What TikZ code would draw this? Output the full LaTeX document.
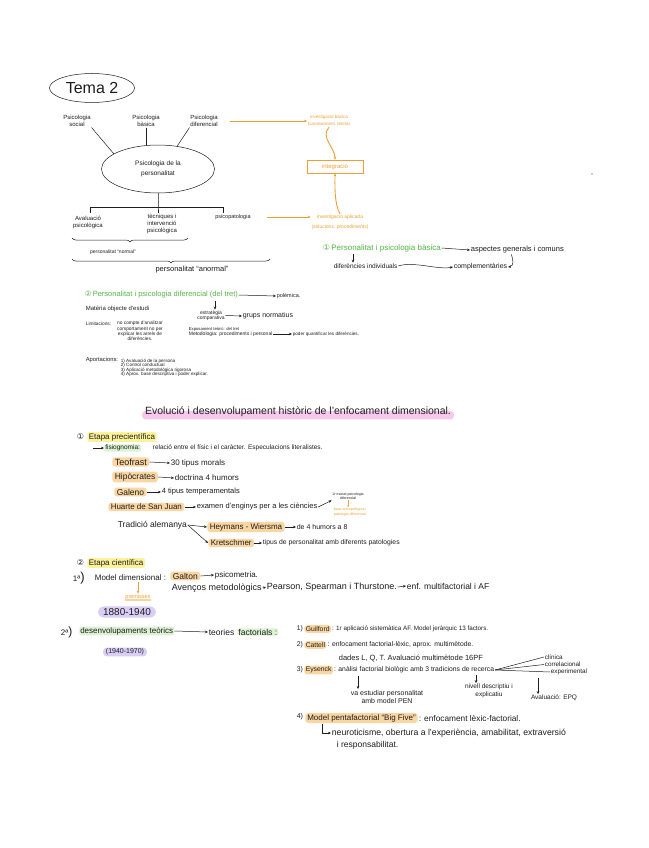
\documentclass[tikz,border=0pt]{standalone}
\usepackage{fontspec}
\setmainfont{Liberation Sans}
\newfontfamily\dv{DejaVu Sans}
\usetikzlibrary{shapes.geometric,arrows.meta,decorations.pathreplacing,backgrounds}
\definecolor{ink}{HTML}{1E1E1E}
\definecolor{orng}{HTML}{F0A032}
\definecolor{grn}{HTML}{55B548}
\definecolor{hyel}{HTML}{FBF29A}
\definecolor{hpea}{HTML}{FAD6A2}
\definecolor{hpnk}{HTML}{F6C8EC}
\definecolor{hlav}{HTML}{D9CEF6}
\definecolor{hgrn}{HTML}{DCF3D3}
\newcommand\fsz[2]{\fontsize{#1}{#2}\selectfont}
\begin{document}
\begin{tikzpicture}[x=1pt,y=-1pt,line width=0.5pt,color=ink,
  >={Stealth[length=3pt,width=2.6pt]},
  tx/.style={inner sep=0.6pt},
  tw/.style={tx,anchor=west},
  hl/.style={fill=hpea,rounded corners=3pt,inner xsep=2.5pt,inner ysep=1.3pt},
  ocon/.style={draw=orng,line width=0.9pt,->},
  brc/.style={decorate,decoration={brace,mirror,amplitude=4pt}}]
\useasboundingbox (0,0) rectangle (648,848);
% ---------- top tree ----------
\node[draw,ellipse,minimum width=85pt,minimum height=29pt,inner sep=0pt,font=\fsz{16}{16}] (tema) at (92,88) {Tema 2};
\node[tx,align=center,font=\fsz{6}{7}] (ps) at (77,121) {Psicologia\\social};
\node[tx,align=center,font=\fsz{6}{7}] (pb) at (146,121) {Psicologia\\bàsica};
\node[tx,align=center,font=\fsz{6}{7}] (pdf) at (204,121) {Psicologia\\diferencial};
\node[draw,ellipse,minimum width=113pt,minimum height=48pt,inner sep=0pt,align=center,font=\fsz{6.5}{10}] (pp) at (158,169) {Psicologia de la\\personalitat};
\draw (ps.south east) -- (pp.161);
\draw (pb.south) -- (pb.south |- pp.north);
\draw (pdf.south west) -- (pp.50);
\coordinate (bl) at (90,207);
\coordinate (br) at (223,207);
\draw (pp.south) -- (pp.south |- bl) -- ++(0,6);
\draw (bl) -- (br);
\draw (bl) -- ++(0,6);
\draw (br) -- ++(0,6);
\node[tx,align=center,font=\fsz{6}{7}] (ava) at (88,222) {Avaluació\\psicològica};
\node[tx,align=center,font=\fsz{6}{7}] (tec) at (162,224) {tècniques i\\intervenció\\psicològica};
\node[tx,font=\fsz{5.5}{6}] (psp) at (233,217) {psicopatologia};
\draw[brc] (72,238) -- (188,238);
\node[tx,font=\fsz{5}{6}] (pn) at (113,252) {personalitat “normal”};
\draw[brc] (72,259) -- (270,259);
\node[tx,font=\fsz{7.5}{8}] (pa) at (192,270) {personalitat “anormal”};
% ---------- orange ----------
\node[tx,text=orng,align=center,font=\fsz{4.5}{6.5}] (ib) at (329,121) {investigació bàsica\\(coneixement, teoria)};
\node[draw=orng,line width=0.7pt,text=orng,minimum width=56pt,minimum height=13pt,inner sep=0pt,font=\fsz{6}{6}] (int) at (335,166.5) {integració};
\node[tx,text=orng,align=center,font=\fsz{5}{10}] (ia) at (340,222) {investigació aplicada\\(solucions, procediments)};
\draw[ocon,shorten <=11pt] (pdf) -- (ib);
\draw[ocon] (ib.south) .. controls +(-9,10) and +(0,-12) .. (int.north);
\coordinate (o2) at ([xshift=16pt]psp.east);
\draw[ocon] (o2) -- (o2 -| ia.west);
\draw[ocon] (ia.north) .. controls +(-6,-10) and +(0,10) .. (int.south);
\fill (592,174) circle (0.7pt);
% ---------- green 1 ----------
\node[tw,text=grn,font=\fsz{8}{8}] (g1) at (322,248) {{\dv ①}\,Personalitat i psicologia bàsica};
\node[tw,font=\fsz{7.5}{8}] (asp) at (470,250) {aspectes generals i comuns};
\draw[->] (g1.east) -- (asp.west);
\node[tw,font=\fsz{6.5}{7}] (dif) at (333,266) {diferències individuals};
\node[tw,font=\fsz{7}{7}] (comp) at (453,267) {complementàries};
\coordinate (g1d) at (353,254);
\draw[->] (g1d) -- (g1d |- dif.north);
\draw[->] (dif.east) .. controls +(15,-5) and +(-15,3) .. (comp.west);
\draw[->] ([xshift=-6pt]asp.south) .. controls +(2,6) and +(6,-1) .. (comp.east);
% ---------- green 2 ----------
\node[tw,text=grn,font=\fsz{7.5}{8}] (g2) at (84,295) {{\dv ②}\,Personalitat i psicologia diferencial (del tret)};
\node[tw,font=\fsz{5.5}{6}] (pol) at (276,296) {polèmica.};
\draw[->] (g2.east) -- (pol.west);
\node[tw,font=\fsz{6}{6}] (mat) at (85,309) {Matèria objecte d'estudi};
\node[tx,align=center,font=\fsz{5}{5.3}] (est) at (211,315.5) {estratègia\\comparativa};
\coordinate (g2d) at (215,301);
\draw[->] (g2d) -- (g2d |- est.north);
\node[tw,font=\fsz{7}{7}] (gn) at (242,316) {grups normatius};
\draw[->] (est.east) -- (gn.west);
\node[tw,font=\fsz{4.8}{5}] (lim) at (85,324) {Limitacions:};
\node[tx,anchor=north,align=center,font=\fsz{4.8}{5.3}] (limt) at (140,320.5) {no compte d'analitzar\\comportament no per\\explicar les arrels de\\diferències.};
\node[tw,font=\fsz{4.2}{5}] (exp) at (188,329) {Exposament teòric: del tret};
\node[tw,font=\fsz{5}{5}] (met) at (188,334) {Metodologia: procediments i personal};
\node[tw,font=\fsz{4.6}{5}] (pq) at (292,334) {poder quantificar les diferències.};
\draw[->] (met.east) -- (pq.west);
\node[tw,font=\fsz{5.8}{6}] (apo) at (85,360) {Aportacions:};
\node[tx,anchor=north west,align=left,font=\fsz{4.6}{4.5}] (apl) at (120,358) {1) Avaluació de la persona\\2) Control conductual\\3) Aplicació metodològica rigorosa\\4) Aprox. base descriptiva i poder explicar.};
% ---------- title ----------
\node[tx,font=\fsz{10.5}{11}] (ev) at (298,412) {Evolució i desenvolupament històric de l'enfocament dimensional.};
% ---------- etapa precientifica ----------
\node[tw,font=\fsz{8}{8}] (e1n) at (76,437) {\dv ①};
\node[tw,fill=hyel,rounded corners=2pt,inner xsep=1.5pt,inner ysep=1pt,font=\fsz{8}{8}] (e1) at (87,437) {Etapa precientífica};
\coordinate (fa) at (93,448);
\node[tw,fill=hgrn,rounded corners=2pt,inner xsep=1pt,font=\fsz{6.5}{7}] (fis) at (104,448) {fisiognomia:};
\draw[->] (fa) -- (fis.west);
\node[tw,font=\fsz{6.5}{7}] (rel) at (152,448) {relació entre el físic i el caràcter. Especulacions literalistes.};
\node[tw,hl,font=\fsz{9}{9}] (teo) at (112,462) {Teofrast};
\node[tw,font=\fsz{8}{8}] (teod) at (170,463) {30 tipus morals};
\draw[->] (teo.east) -- (teod.west);
\node[tw,hl,font=\fsz{8.5}{9}] (hip) at (112,477) {Hipòcrates};
\node[tw,font=\fsz{8}{8}] (hipd) at (174,478) {doctrina 4 humors};
\draw[->] (hip.east) -- (hipd.west);
\node[tw,hl,font=\fsz{8.5}{9}] (gal) at (114,492) {Galeno};
\node[tw,font=\fsz{7.5}{8}] (gald) at (161,492) {4 tipus temperamentals};
\draw[->] (gal.east) -- (gald.west);
\node[tw,hl,font=\fsz{8}{8}] (hua) at (108,507) {Huarte de San Juan};
\node[tw,font=\fsz{7.5}{8}] (huad) at (196,507) {examen d'enginys per a les ciències};
\draw[->] (hua.east) -- (huad.west);
\node[tx,align=center,font=\fsz{3.6}{4.5}] (tn1) at (348,496) {1r tractat psicologia\\diferencial};
\draw[->] (huad.east) -- (tn1.south west);
\node[tx,text=orng,align=center,font=\fsz{3.6}{4.5}] (tn2) at (350,512) {base antropològica i\\patologia diferencial};
\draw[orng,->,>={Stealth[length=1.8pt,width=1.6pt]}] (tn1.south) -- (tn1.south |- tn2.north);
\node[tw,font=\fsz{8.5}{9}] (trad) at (117,525) {Tradició alemanya};
\node[tw,hl,font=\fsz{8}{8}] (hey) at (207,527) {Heymans - Wiersma};
\node[tw,font=\fsz{7}{7}] (heyd) at (296,527) {de 4 humors a 8};
\draw[->] (hey.east) -- (heyd.west);
\node[tw,hl,font=\fsz{8}{8}] (kre) at (208,543) {Kretschmer};
\node[tw,font=\fsz{6.8}{7}] (kred) at (262,543) {tipus de personalitat amb diferents patologies};
\draw[->] (kre.east) -- (kred.west);
\draw[->] (trad.east) -- (hey.west);
\draw[->] (trad.east) -- (kre.west);
% ---------- etapa cientifica ----------
\node[tw,font=\fsz{8}{8}] (e2n) at (76,563) {\dv ②};
\node[tw,fill=hyel,rounded corners=2pt,inner xsep=1.5pt,inner ysep=1pt,font=\fsz{8}{8}] (e2) at (87,563) {Etapa científica};
\node[tw,font=\fsz{8}{8}] (m1n) at (72,578) {1ª{\fsz{13}{13})}};
\node[tw,font=\fsz{8}{8}] (md) at (94,578) {Model dimensional :};
\node[tw,hl,font=\fsz{8.5}{9}] (gton) at (170,576) {Galton};
\node[tw,font=\fsz{8}{8}] (psi) at (214,575) {psicometria.};
\draw[->] (gton.east) -- (psi.west);
\node[tw,font=\fsz{9}{9}] (ave) at (171,588) {Avenços metodològics};
\node[tw,font=\fsz{9}{9}] (pea) at (266,587) {Pearson, Spearman i Thurstone.};
\node[tw,font=\fsz{8.5}{9}] (enf) at (406,586) {enf. multifactorial i AF};
\draw[->] (ave.east) -- (pea.west);
\draw[->] (pea.east) -- (enf.west);
\node[tx,text=orng,font=\fsz{5.5}{6}] (pre) at (138,597) {premisses};
\draw[orng,->] (pre.north |- md.south) -- (pre.north);
\node[tx,fill=hlav,rounded corners=6pt,inner xsep=5pt,inner ysep=2pt,font=\fsz{10}{10}] (y1) at (127,612) {1880-1940};
\node[tw,font=\fsz{8}{8}] (m2n) at (60,632) {2ª{\fsz{12}{12})}};
\node[tw,fill=hgrn,rounded corners=2pt,inner xsep=1pt,font=\fsz{8}{8}] (dt) at (79,631) {desenvolupaments teòrics};
\node[tw,font=\fsz{8.5}{9}] (tf) at (208,632) {teories};
\node[tw,fill=hgrn,rounded corners=2pt,inner xsep=1pt,font=\fsz{8.5}{9}] (tf2) at ([xshift=2pt]tf.east) {factorials :};
\draw[->] (dt.east) -- (tf.west);
\node[tx,fill=hlav,rounded corners=4pt,inner xsep=3pt,inner ysep=1.2pt,font=\fsz{7}{7}] (y2) at (125,652) {(1940-1970)};
% ---------- factorial theories ----------
\node[tw,font=\fsz{6.8}{7}] (n1) at (296,629) {1)};
\node[tw,hl,inner xsep=1.5pt,font=\fsz{6.8}{7}] (gu) at (304,629) {Guilford};
\node[tw,font=\fsz{6.3}{7}] (gud) at (gu.east) {: 1r aplicació sistemàtica AF. Model jeràrquic 13 factors.};
\node[tw,font=\fsz{6.8}{7}] (n2) at (296,645) {2)};
\node[tw,hl,inner xsep=1.5pt,font=\fsz{6.8}{7}] (ca) at (304,645) {Cattell};
\node[tw,font=\fsz{6.8}{7}] (cad) at (ca.east) {: enfocament factorial-lèxic, aprox. multimètode.};
\node[tw,font=\fsz{7.5}{8}] (cad2) at (338,658) {dades L, Q, T. Avaluació multimètode 16PF};
\node[tw,font=\fsz{6.8}{7}] (n3) at (296,670) {3)};
\node[tw,hl,inner xsep=1.5pt,font=\fsz{6.8}{7}] (ey) at (304,670) {Eysenck};
\node[tw,font=\fsz{6.8}{7}] (eyd) at (ey.east) {: anàlisi factorial biològic amb 3 tradicions de recerca};
\node[tw,font=\fsz{6.3}{7}] (cl) at (544,657) {clínica};
\node[tw,font=\fsz{6.3}{7}] (co) at (544,664.5) {correlacional};
\node[tw,font=\fsz{6.3}{7}] (ex) at (550,672) {experimental};
\draw (eyd.east) -- (cl.west);
\draw (eyd.east) -- (co.west);
\draw (eyd.east) -- (ex.west);
\coordinate (a1) at (358,676);
\node[tx,align=center,font=\fsz{7}{8}] (va) at (387,696.5) {va estudiar personalitat\\amb model PEN};
\draw[->] (a1) -- (a1 |- va.north);
\coordinate (a2) at (476,675);
\node[tx,align=center,font=\fsz{6.5}{8}] (niv) at (489,691) {nivell descriptiu i\\explicatiu};
\draw[->] (a2) -- (a2 |- niv.north);
\coordinate (a3) at (538,678);
\node[tx,font=\fsz{6.5}{7}] (epq) at (554,698) {Avaluació: EPQ};
\draw[->] (a3) -- (a3 |- epq.north);
\node[tw,font=\fsz{7}{8}] (n4) at (296,717) {4)};
\node[tw,hl,inner xsep=2pt,font=\fsz{8}{8}] (bf) at (305,718) {Model pentafactorial “Big Five”};
\node[tw,font=\fsz{8.3}{9}] (bfd) at (bf.east) {: enfocament lèxic-factorial.};
\node[tw,font=\fsz{8.7}{9}] (neu) at (331,733) {neuroticisme, obertura a l'experiència, amabilitat, extraversió};
\coordinate (l0) at (322,724);
\draw[->] (l0) |- (neu.west);
\node[tw,font=\fsz{8.5}{9}] (res) at (336,745) {i responsabilitat.};
% ---------- background ----------
\begin{scope}[on background layer]
\fill[white] (0,0) rectangle (648,848);
\fill[hpnk,rounded corners=3pt] ([yshift=-1.5pt,xshift=-2pt]ev.south west) rectangle ([yshift=1pt,xshift=2pt]ev.east);
\fill[orng!45,rounded corners=1pt] ([yshift=-0.5pt]pre.south west) rectangle ([yshift=1.5pt]pre.south east);
\end{scope}
\end{tikzpicture}
\end{document}
